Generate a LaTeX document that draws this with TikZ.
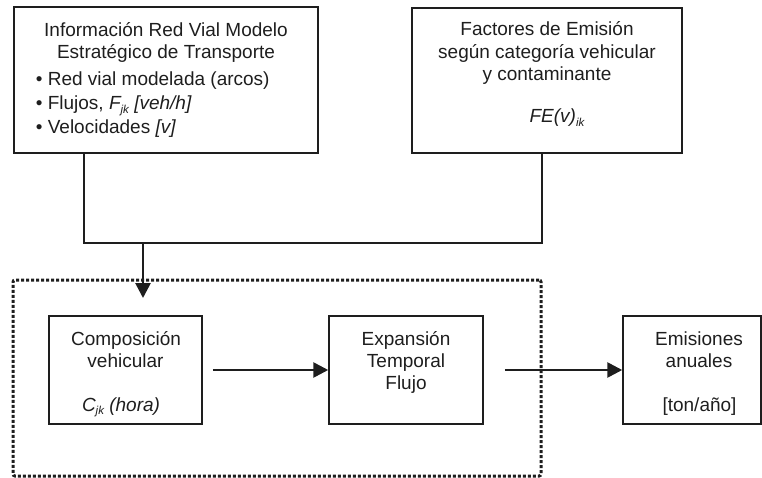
\documentclass[tikz,border=0pt]{standalone}
\usepackage{fontspec}
\setmainfont{Liberation Sans}
\usetikzlibrary{arrows.meta}
\newcommand{\subidx}[1]{\raisebox{-3.5pt}{\fontsize{11.5}{11.5}\selectfont #1}}
\definecolor{ink}{HTML}{1E1E1E}
\begin{document}
\begin{tikzpicture}[x=1pt,y=-1pt, color=ink,
  box/.style={draw, line width=1.5pt, inner sep=0pt},
  txt/.style={anchor=base, inner sep=0pt, font=\fontsize{19}{22}\selectfont},
  ltxt/.style={txt, anchor=base west},
  link/.style={line width=1.5pt},
  flow/.style={line width=2.7pt, -{Triangle[length=15pt,width=15pt]}},
  group/.style={draw, line width=3pt, dash pattern=on 3pt off 2pt, rounded corners=2pt, inner sep=0pt}]
\useasboundingbox (0,0) rectangle (762,478);
% group
\node[group, minimum width=528pt, minimum height=196pt] (grp) at (277,378) {};
% boxes
\node[box, minimum width=304pt, minimum height=146pt] (info) at (166,80) {};
\node[box, minimum width=270pt, minimum height=145pt] (fe) at (547,80.5) {};
\node[box, minimum width=153pt, minimum height=108pt] (comp) at (125.5,370) {};
\node[box, minimum width=154pt, minimum height=108pt] (exp) at (406,370) {};
\node[box, minimum width=138pt, minimum height=108pt] (emis) at (692,370) {};
% texts
\node[txt] (i1) at (166,37) {Información Red Vial Modelo};
\node[txt] (i2) at (166,59) {Estratégico de Transporte};
\node[ltxt] (i3) at (35.7,86) {• Red vial modelada (arcos)};
\node[ltxt] (i4) at (35.7,110) {• Flujos, \textit{F\subidx{jk} [veh/h]}};
\node[ltxt] (i5) at (35.7,134) {• Velocidades \textit{[v]}};
\node[txt] (f1) at (547,36) {Factores de Emisión};
\node[txt] (f2) at (547,58.5) {según categoría vehicular};
\node[txt] (f3) at (547,81) {y contaminante};
\node[txt] (f4) at (557,123) {\textit{FE(v)\subidx{ik}}};
\node[txt] (c1) at (126,345) {Composición};
\node[txt] (c2) at (125.5,367) {vehicular};
\node[txt] (c3) at (121,411) {\textit{C\subidx{jk} (hora)}};
\node[txt] (e1) at (406,345) {Expansión};
\node[txt] (e2) at (406,367) {Temporal};
\node[txt] (e3) at (406,389) {Flujo};
\node[txt] (m1) at (699,345) {Emisiones};
\node[txt] (m2) at (699,367) {anuales};
\node[txt] (m3) at (699.5,411) {[ton/año]};
% connectors
\coordinate (p1) at (84,243);
\coordinate (p2) at (542,243);
\coordinate (j) at (143,243);
\coordinate (jt) at (143,298);
\draw[link] (info.south -| p1) -- (p1) -- (p2) -- (fe.south -| p2);
\draw[flow] (j) -- (jt);
\draw[flow] ([xshift=10pt]comp.east) -- (exp.west);
\draw[flow] ([xshift=21pt]exp.east) -- (emis.west);
\end{tikzpicture}
\end{document}
